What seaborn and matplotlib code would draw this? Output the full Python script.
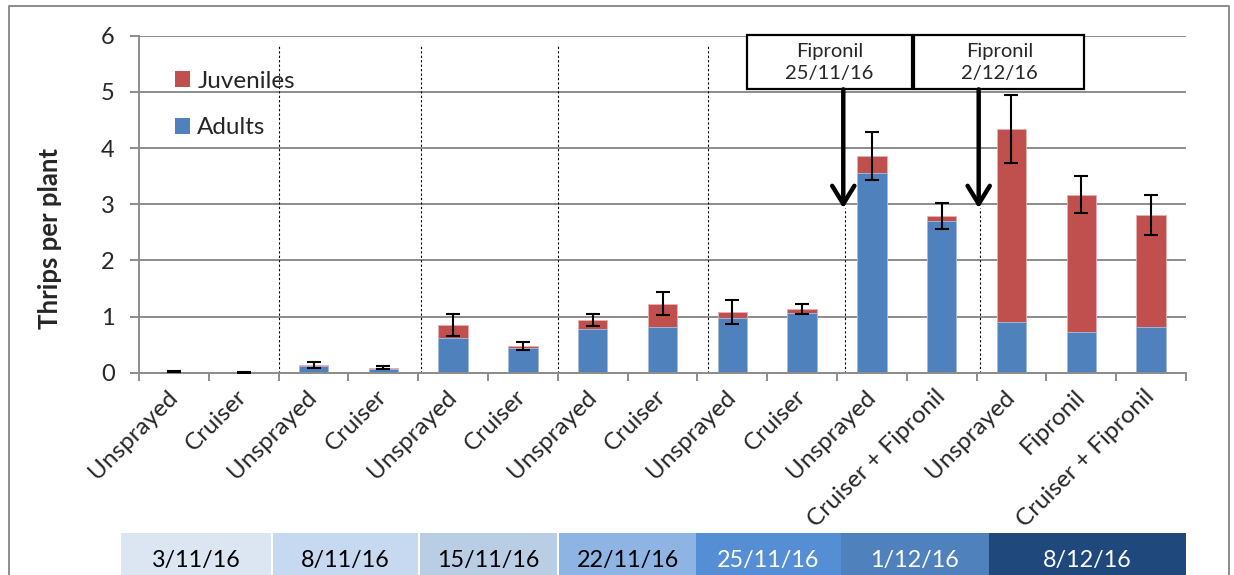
import matplotlib.pyplot as plt
import seaborn as sns
import pandas as pd
from matplotlib.patches import Patch, Rectangle, FancyArrowPatch
from matplotlib.lines import Line2D

# Treatments along the x axis (in order)
treatments = ["Unsprayed", "Cruiser", "Unsprayed", "Cruiser", "Unsprayed", "Cruiser",
              "Unsprayed", "Cruiser", "Unsprayed", "Cruiser", "Unsprayed",
              "Cruiser + Fipronil", "Unsprayed", "Fipronil", "Cruiser + Fipronil"]

# Thrips per plant
adults = [0.02, 0.005, 0.12, 0.07, 0.62, 0.44, 0.77, 0.81, 0.97, 1.06, 3.55, 2.70, 0.90, 0.72, 0.82]
juveniles = [0.0, 0.005, 0.01, 0.02, 0.23, 0.04, 0.17, 0.42, 0.115, 0.07, 0.31, 0.09, 3.44, 2.45, 1.99]
errors = [0.01, 0.01, 0.055, 0.03, 0.20, 0.07, 0.10, 0.20, 0.21, 0.09, 0.43, 0.24, 0.60, 0.33, 0.35]

# Sampling dates shown in the band under the chart
sample_dates = ["3/11/16", "8/11/16", "15/11/16", "22/11/16", "25/11/16", "1/12/16", "8/12/16"]
date_colors = ["#DCE6F2", "#C6D9F1", "#B9CDE5", "#8EB4E3", "#558ED5", "#4F81BD", "#1F497D"]
date_text_colors = ["black", "black", "black", "black", "white", "white", "white"]

# Spray events
spray_labels = ["Fipronil\n25/11/16", "Fipronil\n2/12/16"]

df = pd.DataFrame({
    "pos": list(range(len(treatments))),
    "Adults": adults,
    "Juveniles": juveniles,
})
df["Total"] = df["Adults"] + df["Juveniles"]

red = "#C0504D"
blue = "#4F81BD"
grey = "#8c8c8c"

sns.set_style("white")
plt.rcParams["font.family"] = ["Lato", "DejaVu Sans"]

W, H = 1234, 575
fig = plt.figure(figsize=(W / 100, H / 100), dpi=100)
ax = fig.add_axes([139 / W, 1 - 372.7 / H, (1186 - 139) / W, (372.7 - 35.7) / H])

# stacked bars: total first (red), adults on top of it (blue)
sns.barplot(data=df, x="pos", y="Total", color=red, width=0.42, saturation=1,
            edgecolor="#e8b0ae", linewidth=0.6, ax=ax)
sns.barplot(data=df, x="pos", y="Adults", color=blue, width=0.42, saturation=1,
            edgecolor="#a9c1e0", linewidth=0.6, ax=ax)
ax.errorbar(df["pos"], df["Total"], yerr=errors, fmt="none", ecolor="black",
            elinewidth=1.5, capsize=5, capthick=1.5, zorder=5)

ax.set_xlim(-0.5, len(treatments) - 0.5)
ax.set_ylim(0, 6)
ax.set_yticks(range(0, 7))
ax.yaxis.grid(True, color=grey, linewidth=1.4)
ax.set_axisbelow(True)
for s in ["top", "right"]:
    ax.spines[s].set_visible(False)
for s in ["left", "bottom"]:
    ax.spines[s].set_color(grey)
    ax.spines[s].set_linewidth(1.4)

ax.tick_params(axis="y", direction="out", length=6.5, width=1.4, color=grey,
               pad=11, labelsize=17, left=True)
ax.set_xticks(range(len(treatments)))
ax.set_xticklabels(treatments, rotation=45, ha="right", va="center",
                   rotation_mode="anchor", fontsize=17.5)
ax.tick_params(axis="x", which="major", length=0, pad=15)
ax.set_xticks([i - 0.5 for i in range(len(treatments) + 1)], minor=True)
ax.tick_params(axis="x", which="minor", direction="out", length=6, width=1.4,
               color=grey, bottom=True)
ax.set_xlabel("")
ax.set_ylabel("Thrips per plant", fontsize=18.5, fontweight="bold")
ax.yaxis.set_label_coords(-0.0735, 0.397)

# dotted separators between sampling dates
for xs in [1.51, 3.54, 5.50, 7.65]:
    ax.plot([xs, xs], [0, 5.82], color="black", linestyle=(0, (2, 2)), linewidth=0.8,
            zorder=1)
for xs in [9.62, 11.55]:
    ax.plot([xs, xs], [0, 2.93], color="black", linestyle=(0, (2, 2)), linewidth=0.8,
            zorder=1)

# spray boxes and arrows
boxes = [(8.21, 10.57), (10.61, 13.04)]
for (x0, x1), label, xa in zip(boxes, spray_labels, [9.59, 11.53]):
    ax.add_patch(Rectangle((x0, 5.045), x1 - x0, 6.02 - 5.045, facecolor="white",
                           edgecolor="black", linewidth=1.6, clip_on=False, zorder=6))
    ax.text((x0 + x1) / 2, 5.53, label, ha="center", va="center", fontsize=14.5,
            linespacing=1.35, zorder=7, clip_on=False)
    ax.add_patch(FancyArrowPatch((xa, 5.045), (xa, 2.93),
                                 arrowstyle="->,head_length=0.65,head_width=0.4",
                                 mutation_scale=20, color="black", linewidth=3.2,
                                 shrinkA=0, shrinkB=0, zorder=6))

# legend
handles = [Patch(facecolor=red, edgecolor="none"), Patch(facecolor=blue, edgecolor="none")]
ax.legend(handles, ["Juveniles", "Adults"], loc="upper left",
          bbox_to_anchor=(0.025, 0.925), frameon=False, fontsize=17.5,
          handlelength=0.62, handleheight=0.62, handletextpad=0.3,
          labelspacing=1.05, borderaxespad=0)

# date band at the bottom
band_edges = [(121, 271), (273, 418), (420, 557), (559, 696), (696, 841), (841, 989), (989, 1186)]
for (x0, x1), lab, fc, tc in zip(band_edges, sample_dates, date_colors, date_text_colors):
    fig.add_artist(Rectangle((x0 / W, 0), (x1 - x0) / W, (575 - 532.7) / H,
                             transform=fig.transFigure, facecolor=fc, edgecolor="none"))
    fig.text((x0 + x1) / 2 / W, 1 - 560 / H, lab, ha="center", va="center",
             fontsize=16.8, color=tc)

# outer frame
fig.add_artist(Line2D([9 / W, 9 / W, 1229 / W, 1229 / W], [0, 1 - 6 / H, 1 - 6 / H, 0],
                      transform=fig.transFigure, color=grey, linewidth=1.4))

plt.savefig("out.png", dpi=100)
